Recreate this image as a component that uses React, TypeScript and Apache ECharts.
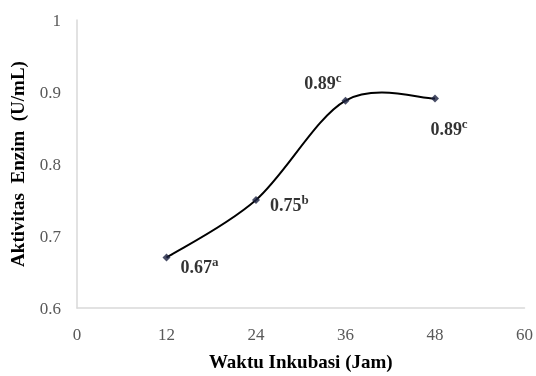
import React, { useEffect, useRef } from "react";
import * as echarts from "echarts";

const hours = [12, 24, 36, 48];
const activity = [0.67, 0.75, 0.888, 0.891];
const valueLabels = ["0.67", "0.75", "0.89", "0.89"];
const letters = ["a", "b", "c", "c"];
const xTicks = [0, 12, 24, 36, 48, 60];
const yTicks = [0.6, 0.7, 0.8, 0.9, 1];

const FONT = "Liberation Serif";

const labelPlacement: any[] = [
  { position: "right", offset: [5, 9] },
  { position: "right", offset: [5, 5] },
  { position: "left", offset: [5, -18] },
  { position: "bottom", offset: [14, 10] },
];

export default function App() {
  const ref = useRef<HTMLDivElement>(null);
  useEffect(() => {
    const chart = echarts.init(ref.current!, null, { renderer: "svg" });
    const pts = hours.map((h, i) => [h, activity[i]]);
    const data = hours.map((h, i) => ({
      value: [h, activity[i]],
      label: {
        show: true,
        ...labelPlacement[i],
        formatter: `{v|${valueLabels[i]}}{s|${letters[i]}}`,
      },
    }));
    chart.setOption({
      animation: false,
      grid: { left: 73, right: 11, top: 20, bottom: 64, containLabel: false },
      xAxis: {
        type: "value",
        min: 0,
        max: 60,
        interval: 12,
        name: "Waktu Inkubasi (Jam)",
        nameLocation: "middle",
        nameGap: 44,
        nameTextStyle: { fontFamily: FONT, fontWeight: "bold", fontSize: 19, color: "#000" },
        axisLine: { show: true, lineStyle: { color: "#d9d9d9", width: 1.5 } },
        axisTick: { show: false },
        splitLine: { show: false },
        axisLabel: { fontFamily: FONT, fontSize: 17, color: "#595959", margin: 18,
          formatter: (v: number) => (xTicks.includes(v) ? String(v) : "") },
      },
      yAxis: {
        type: "value",
        min: 0.6,
        max: 1,
        interval: 0.1,
        name: "Aktivitas  Enzim  (U/mL)",
        nameLocation: "middle",
        nameGap: 50,
        nameTextStyle: { fontFamily: FONT, fontWeight: "bold", fontSize: 19, color: "#000" },
        axisLine: { show: true, lineStyle: { color: "#d9d9d9", width: 1.5 } },
        axisTick: { show: false },
        splitLine: { show: false },
        axisLabel: { fontFamily: FONT, fontSize: 17, color: "#595959", margin: 16,
          formatter: (v: number) => {
            const t = yTicks.find((y) => Math.abs(y - v) < 1e-6);
            return t === undefined ? "" : String(t);
          } },
      },
      series: [
        {
          type: "custom",
          data: pts,
          silent: true,
          z: 2,
          renderItem: (params: any, api: any) => {
            const i = params.dataIndex;
            const n = pts.length;
            if (i >= n - 1) return null;
            const P = (j: number) => api.coord(pts[Math.max(0, Math.min(n - 1, j))]);
            const p0 = P(i - 1), p1 = P(i), p2 = P(i + 1), p3 = P(i + 2);
            const t = 1 / 6;
            const c1 = [p1[0] + (p2[0] - p0[0]) * t, p1[1] + (p2[1] - p0[1]) * t];
            const c2 = [p2[0] - (p3[0] - p1[0]) * t, p2[1] - (p3[1] - p1[1]) * t];
            return {
              type: "bezierCurve",
              shape: { x1: p1[0], y1: p1[1], cpx1: c1[0], cpy1: c1[1], cpx2: c2[0], cpy2: c2[1], x2: p2[0], y2: p2[1] },
              style: { stroke: "#000", lineWidth: 2, fill: null },
            };
          },
        },
        {
          type: "scatter",
          data,
          z: 3,
          symbol: "diamond",
          symbolSize: 8,
          itemStyle: { color: "#1a2040" },
          label: {
            color: "#000",
            rich: {
              v: { fontFamily: FONT, fontWeight: "bold", fontSize: 18, color: "#000" },
              s: { fontFamily: FONT, fontWeight: "bold", fontSize: 13, color: "#000", padding: [0, 0, 11, 0] },
            },
          },
        },
      ],
    });
    return () => chart.dispose();
  }, []);
  return <div ref={ref} style={{ position: "fixed", left: 0, top: 0, width: 536, height: 376 }} />;
}
